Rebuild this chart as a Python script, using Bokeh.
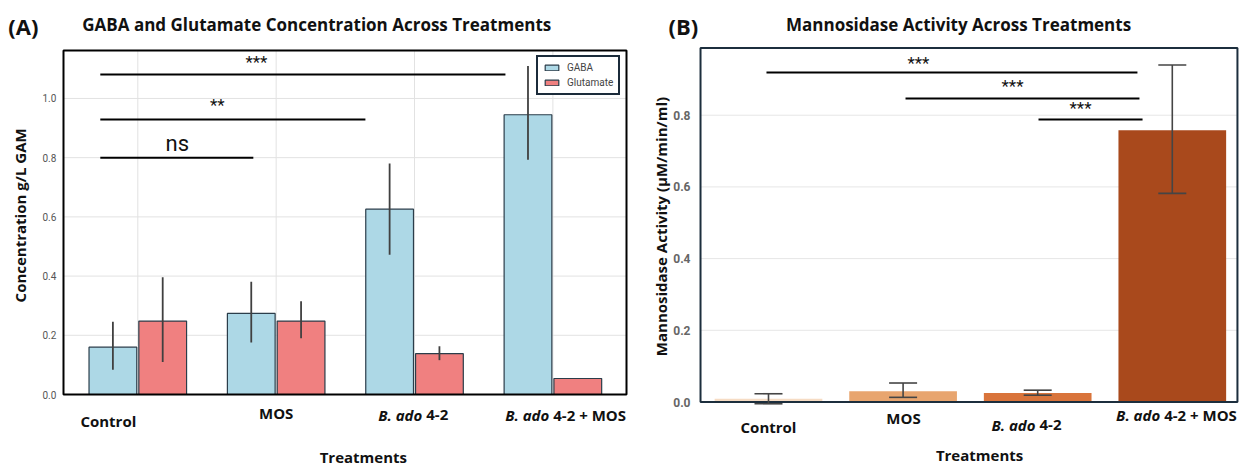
from bokeh.plotting import figure
from bokeh.layouts import row
from bokeh.models import (Range1d, ColumnDataSource, Whisker, TeeHead, Legend, LegendItem)
from bokeh.core.properties import value
from bokeh.embed import file_html
from bokeh.resources import INLINE
import numpy as np

# ---------------- data ----------------
categories = ["Control", "MOS", "B. ado 4-2", "B. ado 4-2 + MOS"]

gaba_mean = [0.160, 0.274, 0.626, 0.945]
gaba_lo = [0.084, 0.176, 0.472, 0.793]
gaba_hi = [0.246, 0.381, 0.780, 1.110]

glut_mean = [0.248, 0.248, 0.138, 0.054]
glut_lo = [0.110, 0.190, 0.116, 0.054]
glut_hi = [0.396, 0.315, 0.163, 0.054]

mann_mean = [0.009, 0.030, 0.025, 0.758]
mann_lo = [-0.005, 0.013, 0.019, 0.582]
mann_hi = [0.023, 0.053, 0.033, 0.940]

y_ticks_a = [0.0, 0.2, 0.4, 0.6, 0.8, 1.0]
y_ticks_b = [0.0, 0.2, 0.4, 0.6, 0.8]

mann_colors = ["#f6dcc4", "#e8a56f", "#d9743b", "#a9491c"]

FONT = "Open Sans"
TICKFONT = "Roboto"


def txt(p, x, y, text, size, style="bold", align="center", baseline="middle",
        angle=0, color="#111111", x_offset=0, font=FONT):
    p.text(x=[x], y=[y], text=[text], text_font=value(font), text_font_size=f"{size}px",
           text_font_style=style, text_align=align, text_baseline=baseline,
           angle=angle, text_color=color, x_offset=x_offset)


def cat_label(p, x, y, cat, size=15):
    if cat.startswith("B. ado"):
        rest = cat[len("B. ado"):].strip()
        txt(p, x, y, "B. ado", size, style="bold italic", align="right")
        txt(p, x, y, rest, size, style="bold", align="left", x_offset=4)
    else:
        txt(p, x, y, cat, size)


def base_fig(w, h, xr, yr):
    p = figure(frame_width=w, frame_height=h, x_range=Range1d(*xr), y_range=Range1d(*yr),
               output_backend="svg", toolbar_location=None,
               min_border_left=0, min_border_right=0, min_border_top=0, min_border_bottom=0)
    p.axis.visible = False
    p.grid.visible = False
    p.outline_line_color = None
    p.background_fill_color = "white"
    p.border_fill_color = "white"
    return p


xi = np.arange(len(categories))

# ---------------- Panel A ----------------
A_L, A_R, A_T = -0.537, 3.532, 1.162
pA = base_fig(634, 466, (-0.9923, 3.5898), (-0.2432, 1.3309))

pA.segment(x0=[A_L] * 5, y0=y_ticks_a[1:], x1=[A_R] * 5, y1=y_ticks_a[1:],
           line_color="#e2e2e2", line_width=1)
pA.segment(x0=list(xi), y0=[0] * 4, x1=list(xi), y1=[A_T] * 4, line_color="#e2e2e2", line_width=1)

srcA = ColumnDataSource(dict(xg=xi - 0.18, xu=xi + 0.18, gaba=gaba_mean, glut=glut_mean,
                             glo=gaba_lo, ghi=gaba_hi, ulo=glut_lo, uhi=glut_hi))
r1 = pA.vbar(x="xg", top="gaba", width=0.345, source=srcA, fill_color="#add8e6",
             line_color="#2b3d4a", line_width=1.2)
r2 = pA.vbar(x="xu", top="glut", width=0.345, source=srcA, fill_color="#f08080",
             line_color="#2b3d4a", line_width=1.2)
pA.segment(x0="xg", y0="glo", x1="xg", y1="ghi", source=srcA, line_color="#404040", line_width=1.8)
pA.segment(x0="xu", y0="ulo", x1="xu", y1="uhi", source=srcA, line_color="#404040", line_width=1.8)

pA.quad(left=[A_L], right=[A_R], bottom=[0], top=[A_T], fill_color=None,
        line_color="black", line_width=2)

for t in y_ticks_a:
    txt(pA, -0.589, t, f"{t:.1f}", 10, style="normal", align="right", color="#555555",
        font=TICKFONT)

legA = Legend(items=[LegendItem(label="GABA", renderers=[r1]),
                     LegendItem(label="Glutamate", renderers=[r2])],
              location=(536, 371))
legA.border_line_color = "#1b2b3a"
legA.border_line_width = 2
legA.border_line_alpha = 1.0
legA.label_text_font = TICKFONT
legA.label_text_font_size = "10px"
legA.label_text_color = "#444444"
legA.glyph_width = 17
legA.glyph_height = 7
legA.label_height = 11
legA.spacing = 4
legA.padding = 5
legA.margin = 0
legA.label_standoff = 7
pA.add_layout(legA)

pA.segment(x0=[-0.271, -0.271, -0.271], y0=[1.081, 0.929, 0.80],
           x1=[2.657, 1.645, 0.835], y1=[1.081, 0.929, 0.80], line_color="black", line_width=2)
txt(pA, 0.857, 1.122, "***", 17, style="normal", font=TICKFONT)
txt(pA, 0.575, 0.977, "**", 17, style="normal", font=TICKFONT)
txt(pA, 0.286, 0.848, "ns", 22, style="normal", font=TICKFONT)

cat_y_a = [-0.088, -0.064, -0.068, -0.068]
cat_x_a = [-0.213, 1.0, 2.056, 2.974]
for c, xx, yy in zip(categories, cat_x_a, cat_y_a):
    cat_label(pA, xx, yy, c)
txt(pA, 1.63, -0.211, "Treatments", 15)
txt(pA, -0.849, 0.605, "Concentration g/L GAM", 15, angle=np.pi / 2)
txt(pA, -0.401, 1.25, "GABA and Glutamate Concentration Across Treatments", 17, align="left")
txt(pA, -0.936, 1.246, "(A)", 22, align="left")

# ---------------- Panel B ----------------
B_L, B_R, B_T = -0.505, 3.484, 0.98745
pB = base_fig(606, 466, (-0.9955, 3.5067), (-0.1799, 1.12))

pB.segment(x0=[B_L] * 4, y0=y_ticks_b[1:], x1=[B_R] * 4, y1=y_ticks_b[1:],
           line_color="#e6e6e6", line_width=1)

srcB = ColumnDataSource(dict(x=xi, top=mann_mean, lo=mann_lo, hi=mann_hi, color=mann_colors))
pB.vbar(x="x", top="top", width=0.8, source=srcB, fill_color="color", line_color=None)
wh = Whisker(source=srcB, base="x", upper="hi", lower="lo", line_color="#454545",
             line_width=1.6, level="annotation",
             upper_head=TeeHead(size=28, line_color="#454545", line_width=1.6),
             lower_head=TeeHead(size=28, line_color="#454545", line_width=1.6))
pB.add_layout(wh)

pB.quad(left=[B_L], right=[B_R], bottom=[0], top=[B_T], fill_color=None,
        line_color="#1c2e3d", line_width=2)

for t in y_ticks_b:
    txt(pB, -0.5795, t, f"{t:.1f}", 12, style="bold", align="right", color="#666666",
        font=TICKFONT)

pB.segment(x0=[-0.015, 1.018, 2.006], y0=[0.919, 0.8466, 0.788], x1=[2.741, 2.756, 2.779],
           y1=[0.919, 0.8466, 0.788], line_color="black", line_width=2)
txt(pB, 1.114, 0.947, "***", 17, style="normal", font=TICKFONT)
txt(pB, 1.813, 0.882, "***", 17, style="normal", font=TICKFONT)
txt(pB, 2.318, 0.821, "***", 17, style="normal", font=TICKFONT)

cat_y_b = [-0.071, -0.046, -0.063, -0.035]
cat_x_b = [0.0, 1.003, 1.984, 2.91]
for c, xx, yy in zip(categories, cat_x_b, cat_y_b):
    cat_label(pB, xx, yy, c)
txt(pB, 1.568, -0.149, "Treatments", 15)
txt(pB, -0.802, 0.4895, "Mannosidase Activity (\u03bcM/min/ml)", 15, angle=np.pi / 2)
txt(pB, 1.412, 1.053, "Mannosidase Activity Across Treatments", 17)
txt(pB, -0.743, 1.05, "(B)", 22, align="left")

layout = row(pA, pB)
open("out.html", "w").write(file_html(layout, INLINE))
